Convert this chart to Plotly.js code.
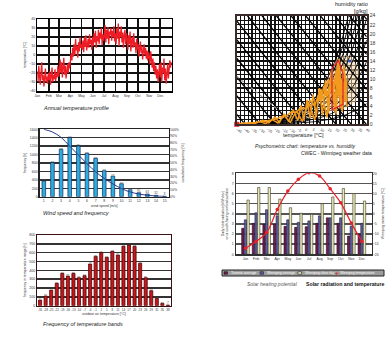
<!DOCTYPE html>
<html><head><meta charset="utf-8">
<script src="https://cdn.plot.ly/plotly-3.0.1.min.js"></script>
<style>html,body{margin:0;padding:0;background:#fff;}#chart{width:392px;height:339px;}</style>
</head><body><div id="chart"></div>
<script>
// ---------------- DATA ----------------
const months = ['Jan','Feb','Mar','Apr','May','Jun','Jul','Aug','Sep','Oct','Nov','Dec'];
const monthStartDay = [0,31,59,90,120,151,181,212,243,273,304,334];
const tempSampleStepDays = 2;
const dailyTemp = [
 -18,-30,-12,-25,-33,-20,-8,-28,-22,-35,-26,-15,-30,-24,-32,-20,
 -28,-18,-33,-25,-14,-30,-22,-27,-16,-29,-20,-25,-12,-24,
 -18,-5,-20,-8,-25,-14,-3,-22,-12,-26,-16,-10,-20,-8,-15,-4,
 2,-6,8,-2,12,0,18,5,10,-3,14,4,20,8,12,
 6,16,3,20,9,22,5,14,18,8,23,12,17,6,20,
 10,24,14,27,8,21,15,28,12,25,18,30,11,23,16,
 20,33,14,28,18,31,12,26,22,30,16,27,20,32,15,
 24,12,30,18,35,10,26,20,32,14,25,8,22,28,12,24,
 18,6,22,12,26,4,16,20,8,24,10,14,2,18,6,
 12,-2,8,15,2,10,-5,6,12,0,8,-4,5,-6,3,
 -2,-10,4,-8,-14,-4,-18,-8,-22,-12,-26,-16,-30,-20,-10,
 -25,-8,-30,-14,-20,-4,-28,-15,-32,-22,-10,-26,-18,-6,-14,-8];

const windSpeed = [1,2,3,4,5,6,7,8,9,10,11,12,13,14,15];
const windHours = [372,808,1125,1402,1204,1030,911,618,491,309,166,95,63,32,8];
const windExceedPct = [100,96,88,75,62,49,37,27,19,12,7,4,2,1,0.5];

const tempBands = ['-31','-28','-25','-22','-19','-16','-13','-10','-7','-4','-1','2','5','8','11','14','17','20','23','26','29','32','35','38'];
const tempBandHours = [64,110,177,253,366,336,366,317,340,472,558,600,547,615,574,672,687,672,480,317,170,83,26,7];

const psyTemp = [-45,-40,-35,-30,-26,-22,-18,-14,-10,-6,-2,2,6,10,14,17,20,22,24,26,
 27,25,23,21,19,17,15,13,11,9,7,5,3,1,-1,-3,-5,-8,-11,-14,-17,-20,-24,-28,-33,-38,
 -36,-31,-27,-23,-19,-15,-12,-9,-6,-3,0,3,6,9,12,15,18,21,23,25,27,26,24,22,20,18,16,14,12,10,8];
const psyHum = [0.05,0.3,0.1,0.6,0.15,1.1,0.3,1.9,0.4,3.0,0.6,4.8,1.0,7.8,1.5,12,2.2,14.4,2.8,11,
 4,13,3.5,13.5,3,11.5,2.4,9.6,2,8,1.6,6.6,1.3,5.4,1.0,4.2,0.8,3.2,0.6,2.3,0.4,1.6,0.3,0.9,0.2,0.4,
 0.3,0.5,0.6,0.9,1.2,1.8,2.0,2.8,2.6,3.8,3.4,5.3,4.0,7.2,5.5,10,6.5,13,8,12,9,5,10,6,12,7,9,6,8.5,5,6.5];
const enthalpyLevels = [-40,-30,-20,-10,0,10,20,30,40,50,60,70,80,90,100];
const rhLevels = [0.1,0.2,0.3,0.4,0.5,0.6,0.7,0.8,0.9,1.0];
const comfortT = [21.6,17.3,17.3,24.5,24.5,21.6];
const comfortW = [14.1,12.4,3.2,4.4,11.1,14.1];
const designT = [28.9], designW = [14];
const minT = [-45], minW = [0];
const guideT = [-45,-17.8], guideW = [10.6,3.2];
const tintT = [12,20,26,33,35,30,22,12];
const tintW = [2.5,3,3.5,5,12,15,15.5,9];

const solarMonths = months;
const torontoAvg   = [2.57,3.06,2.96,2.96,2.76,2.66,2.73,3.06,3.6,3.06,1.8,2.0];
const winnipegAvg  = [3.4,4.1,4.4,3.8,3.4,3.16,3.3,3.8,3.6,3.6,2.8,3.06];
const winnipegClear= [5.36,6.6,6.6,5.46,4.6,4.05,3.95,5.0,5.66,6.5,6.0,5.26];
const winnipegTemp = [-17,-13.7,-9.2,2.1,11.2,17,20.3,18.7,12.4,5.4,-4.6,-13.7];
const solarSeriesNames = ['Toronto average','Winnipeg average','Winnipeg clear sky','Winnipeg temperature'];

// ---------------- HELPERS ----------------
const W = 392, H = 339;
const px = v => v / W;
const py = v => 1 - v / H;
const FONT = 'Liberation Sans, Arial, sans-serif';
const tiny = {size: 3.5, color: '#333', family: FONT};

function enthalpyW(h, T) { return (h - 1.006 * T) / (2.501 + 0.00186 * T); }
function satP(T) { return 611.2 * Math.exp(17.62 * T / (243.12 + T)); }
function rhW(rh, T) { const p = rh * satP(T); return 622 * p / (101325 - p); }
const sampleT = [];
for (let t = -45; t <= 40; t += 1) sampleT.push(t);

// ---------------- TRACES ----------------
const traces = [];
// chart 1
traces.push({type:'scatter', mode:'lines', x: dailyTemp.map((_, i) => i * tempSampleStepDays), y: dailyTemp,
  xaxis:'x', yaxis:'y', line:{color:'#ee1c24', width:1.3}, hoverinfo:'skip'});
// chart 2
traces.push({type:'bar', x: windSpeed, y: windHours, xaxis:'x2', yaxis:'y2', width:0.42,
  marker:{color:'#2aaee0', line:{color:'#1a2a5a', width:0.7}},
  text: windHours.map(String), textposition:'outside', textangle:0, cliponaxis:false,
  textfont:{size:3, color:'#444', family:FONT}});
traces.push({type:'scatter', mode:'lines', x: windSpeed, y: windExceedPct, xaxis:'x2', yaxis:'y3',
  line:{color:'#2d3a8c', width:1, shape:'spline'}});
// chart 3
traces.push({type:'bar', x: tempBands, y: tempBandHours, xaxis:'x3', yaxis:'y4', width:0.55,
  marker:{color:'#c8161b', line:{color:'#4a0808', width:0.8}},
  text: tempBandHours.map(String), textposition:'outside', textangle:0, cliponaxis:false,
  textfont:{size:3, color:'#444', family:FONT}});
// chart 4 psychrometric
traces.push({type:'scatter', mode:'lines', x: tintT, y: tintW, xaxis:'x4', yaxis:'y5', fill:'toself',
  fillcolor:'rgba(245,215,170,0.55)', line:{width:0}, hoverinfo:'skip'});
enthalpyLevels.forEach(h => traces.push({type:'scatter', mode:'lines', x: sampleT, y: sampleT.map(t => enthalpyW(h, t)),
  xaxis:'x4', yaxis:'y5', line:{color:'#000', width:1.3}, hoverinfo:'skip'}));
traces.push({type:'scatter', mode:'lines', x: guideT, y: guideW, xaxis:'x4', yaxis:'y5', line:{color:'#999', width:1.2, dash:'dot'}});
rhLevels.forEach(rh => traces.push({type:'scatter', mode:'lines', x: sampleT, y: sampleT.map(t => rhW(rh, t)),
  xaxis:'x4', yaxis:'y5', line:{color:'#000', width:0.9}, hoverinfo:'skip'}));
traces.push({type:'scatter', mode:'lines', x: psyTemp, y: psyHum, xaxis:'x4', yaxis:'y5', line:{color:'#f29a1c', width:1.5}});
traces.push({type:'scatter', mode:'lines', x: comfortT, y: comfortW, xaxis:'x4', yaxis:'y5', line:{color:'#e8202a', width:1.2}});
traces.push({type:'scatter', mode:'markers', x: designT, y: designW, xaxis:'x4', yaxis:'y5', marker:{color:'#2a4ad0', size:3}});
traces.push({type:'scatter', mode:'markers', x: minT, y: minW, xaxis:'x4', yaxis:'y5', cliponaxis:false, marker:{color:'#e8202a', size:5, symbol:'square'}});
// chart 5
const solarColors = ['#6e1d4e','#5e5e9e','#e9e8bc'];
const solarLines = ['#2a0a1a','#22224a','#3a3a20'];
[torontoAvg, winnipegAvg, winnipegClear].forEach((vals, k) => traces.push({type:'bar', x: solarMonths, y: vals,
  xaxis:'x5', yaxis:'y6', width:0.22, offset:-0.36 + k*0.25, name: solarSeriesNames[k],
  marker:{color: solarColors[k], line:{color: solarLines[k], width:0.6}}}));
traces.push({type:'scatter', mode:'lines+markers', x: solarMonths, y: winnipegTemp, xaxis:'x5', yaxis:'y7',
  name: solarSeriesNames[3], line:{color:'#e8202a', width:1.2, shape:'spline'},
  marker:{color:'#e8202a', size:3.5, symbol:'circle'}});

// ---------------- LAYOUT ----------------
const frame = (c, w) => ({showline:true, mirror:true, linecolor:c, linewidth:w, zeroline:false, ticks:''});
const layout = {
  width: W, height: H, margin:{l:0,r:0,t:0,b:0}, showlegend:false,
  paper_bgcolor:'#fff', plot_bgcolor:'#fff', font:{family:FONT, color:'#333'},
  xaxis: Object.assign(frame('#000',1.5), {domain:[px(37.3),px(171.7)], anchor:'y', range:[0,365],
    tickvals: monthStartDay, ticktext: months, showgrid:true, gridcolor:'#111', gridwidth:1.6, tickfont:tiny}),
  yaxis: Object.assign(frame('#000',1.5), {domain:[py(91),py(19)], anchor:'x', range:[-40,40], dtick:10,
    showgrid:true, gridcolor:'#111', gridwidth:1.6, tickfont:tiny,
    title:{text:'temperature [°C]', font:tiny, standoff:3}}),

  xaxis2: Object.assign(frame('#222',1.2), {domain:[px(39.5),px(169)], anchor:'y2', range:[0.5,15.5],
    tickvals: windSpeed, showgrid:false, tickfont:tiny, title:{text:'wind speed [m/s]', font:tiny, standoff:2}}),
  yaxis2: Object.assign(frame('#222',1.2), {domain:[py(196.7),py(129.3)], anchor:'x2', range:[0,1600], dtick:200,
    showgrid:true, gridcolor:'#333', gridwidth:1.5, tickfont:tiny, title:{text:'frequency [h]', font:tiny, standoff:3}}),
  yaxis3: {overlaying:'y2', anchor:'x2', side:'right', range:[0,100], dtick:10, ticksuffix:'%', showgrid:false,
    zeroline:false, tickfont:tiny, title:{text:'cumulative frequency [%]', font:tiny, standoff:3}},

  xaxis3: Object.assign(frame('#3a1010',1.5), {domain:[px(37.3),px(170.7)], anchor:'y4', type:'category',
    showgrid:false, tickangle:0, tickfont:{size:3, color:'#333', family:FONT},
    title:{text:'outdoor air temperature [°C]', font:tiny, standoff:2}}),
  yaxis4: Object.assign(frame('#3a1010',1.5), {domain:[py(305.7),py(235)], anchor:'x3', range:[0,800], dtick:100,
    showgrid:true, gridcolor:'#333', gridwidth:1.5, tickfont:tiny,
    title:{text:'frequency in temperature range [h]', font:tiny, standoff:3}}),

  xaxis4: Object.assign(frame('#3a2a2a',2), {domain:[px(236.7),px(366.7)], anchor:'y5', range:[-45,40], tick0:-45, dtick:5,
    showgrid:true, gridcolor:'#111', gridwidth:1.3, tickfont:{size:3.5, color:'#333', family:FONT},
    minor:{dtick:2.5, tick0:-45, showgrid:true, gridcolor:'#111', gridwidth:1.3}}),
  yaxis5: Object.assign(frame('#3a2a2a',2), {domain:[py(124.3),py(15.7)], anchor:'x4', side:'right', range:[0,24], dtick:2,
    showgrid:true, gridcolor:'#111', gridwidth:1.3, tickfont:{size:5, color:'#333', family:FONT},
    minor:{dtick:1, showgrid:true, gridcolor:'#111', gridwidth:1.3}}),

  xaxis5: Object.assign(frame('#333',1.2), {domain:[px(235.7),px(371.7)], anchor:'y6', type:'category',
    showgrid:false, tickfont:tiny}),
  yaxis6: Object.assign(frame('#333',1.2), {domain:[py(254.3),py(173.3)], anchor:'x5', range:[0,8], dtick:1,
    showgrid:true, gridcolor:'#555', gridwidth:1.5, tickfont:tiny,
    title:{text:'Daily total radiation [kWh/m²]<br>on a south-facing vertical surface', font:tiny, standoff:3}}),
  yaxis7: {overlaying:'y6', anchor:'x5', side:'right', range:[-20,20], dtick:5, showgrid:false, zeroline:false,
    tickfont:tiny, title:{text:'Winnipeg mean temperature [°C]', font:tiny, standoff:3}},
  annotations: [], shapes: []
};
const note = (text, x, y, size, opts) => layout.annotations.push(Object.assign({text, x:px(x), y:py(y), xref:'paper', yref:'paper',
  showarrow:false, xanchor:'left', yanchor:'middle', font:{size, color:'#222', family:FONT}}, opts || {}));
note('<i>Annual temperature profile</i>', 41, 108, 5.5);
note('<i>Wind speed and frequency</i>', 41, 213, 5.5);
note('<i>Frequency of temperature bands</i>', 41, 324, 5.5);
note('humidity ratio', 370, 4, 5.5, {xanchor:'right'});
note('[g/kg]', 370, 11, 5.5, {xanchor:'right'});
note('temperature [°C]', 303, 135, 5.5, {xanchor:'center'});
note('<i>Psychometric chart: temperature vs. humidity</i>', 305, 146, 5, {xanchor:'center'});
note('CWEC - Winnipeg weather data', 336, 153, 5, {xanchor:'center'});
note('<i>Solar heating potential</i>', 272, 284, 5, {xanchor:'center', font:{size:5, color:'#555', family:FONT}});
note('<b>Solar radiation and temperature</b>', 345, 284, 5.2, {xanchor:'center', font:{size:5.2, color:'#111', family:FONT}});

// custom legend for chart 5
layout.shapes.push({type:'rect', xref:'paper', yref:'paper', x0:px(222), x1:px(384), y0:py(276), y1:py(270),
  fillcolor:'#9c9c9c', line:{color:'#222', width:1}});
const legendX = [224, 260, 298, 333];
legendX.forEach((x0, k) => {
  if (k < 3) layout.shapes.push({type:'rect', xref:'paper', yref:'paper', x0:px(x0), x1:px(x0+3.5), y0:py(274.3), y1:py(271.7),
    fillcolor: solarColors[k], line:{color:'#111', width:0.5}});
  else note('<b>+</b>', x0-0.5, 273, 6, {font:{size:6, color:'#e8202a', family:FONT}});
  note(solarSeriesNames[k], x0+4.5, 273, 3.5, {font:{size:3.5, color:'#fff', family:FONT}});
});

Plotly.newPlot('chart', traces, layout, {staticPlot:true, displayModeBar:false});
</script></body></html>
